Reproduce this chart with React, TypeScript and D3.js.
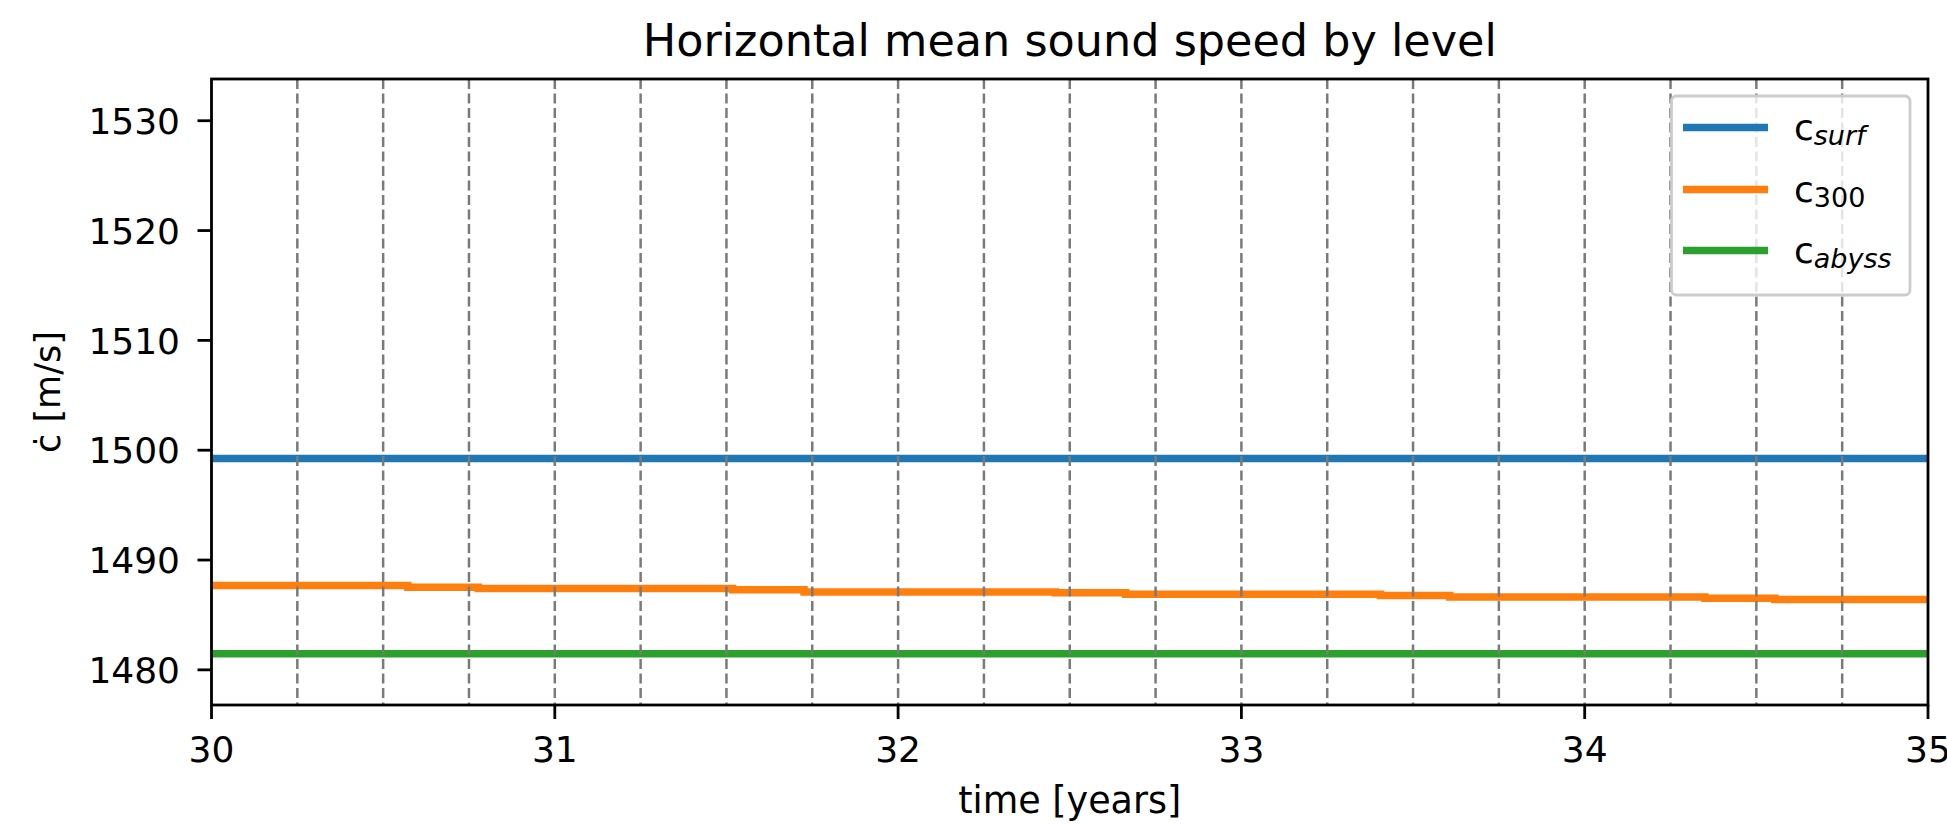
import React from "react";
import * as d3 from "d3";

// Sound speed series (m/s) against model time (years)
const surfTime = [30, 35];
const surfSpeed = [1499.25, 1499.25];

const c300Time = [30, 30.572, 30.777, 31.518, 31.726, 32.458, 32.663, 33.405, 33.607, 34.35, 34.554, 35];
const c300Speed = [1487.67, 1487.53, 1487.4, 1487.29, 1487.1, 1487.02, 1486.88, 1486.76, 1486.64, 1486.53, 1486.41, 1486.41];

const abyssTime = [30, 35];
const abyssSpeed = [1481.46, 1481.46];

const xTicks = [30, 31, 32, 33, 34, 35];
const yTicks = [1480, 1490, 1500, 1510, 1520, 1530];

const seriesNames = [
  { base: "c", sub: "surf", italic: true },
  { base: "c", sub: "300", italic: false },
  { base: "c", sub: "abyss", italic: true },
];
const colors = ["#1f77b4", "#ff7f0e", "#2ca02c"];

const W = 1947;
const H = 824;
const margin = { left: 211.5, right: 1928, top: 79, bottom: 705 };
const FONT = "'DejaVu Sans', sans-serif";

export default function App() {
  const x = d3.scaleLinear().domain([30, 35]).range([margin.left, margin.right]);
  const y = d3.scaleLinear().domain([1476.8, 1533.8]).range([margin.bottom, margin.top]);

  const series = [
    { t: surfTime, v: surfSpeed },
    { t: c300Time, v: c300Speed },
    { t: abyssTime, v: abyssSpeed },
  ];

  const line = d3
    .line<[number, number]>()
    .x((d) => x(d[0]))
    .y((d) => y(d[1]))
    .curve(d3.curveStepAfter);

  // quarterly marker lines between the axis ends
  const quarters = d3.range(30.25, 34.9, 0.25);

  const legendLeft = 1671.5;
  const legendTop = 96;
  const legendRows = [127.5, 189.5, 250.5];

  return (
    <svg
      width={W}
      height={H}
      style={{ position: "absolute", left: 0, top: 0, background: "#fff" }}
      fontFamily={FONT}
    >
      <defs>
        <clipPath id="plot-clip">
          <rect x={margin.left} y={margin.top} width={margin.right - margin.left} height={margin.bottom - margin.top} />
        </clipPath>
      </defs>

      <text x={(margin.left + margin.right) / 2} y={56} fontSize={44.5} textAnchor="middle" fill="#000">
        Horizontal mean sound speed by level
      </text>

      <g clipPath="url(#plot-clip)">
        {series.map((s, i) => (
          <path
            key={i}
            d={line(s.t.map((t, j) => [t, s.v[j]] as [number, number])) || ""}
            fill="none"
            stroke={colors[i]}
            strokeWidth={7.5}
          />
        ))}
        {quarters.map((q) => (
          <line
            key={q}
            x1={x(q)}
            x2={x(q)}
            y1={margin.top}
            y2={margin.bottom}
            stroke="#7a7a7a"
            strokeWidth={2.5}
            strokeDasharray="10,4.5"
          />
        ))}
      </g>

      {/* axes frame */}
      <rect
        x={margin.left}
        y={margin.top}
        width={margin.right - margin.left}
        height={margin.bottom - margin.top}
        fill="none"
        stroke="#000"
        strokeWidth={2.8}
      />

      {yTicks.map((t) => (
        <g key={t}>
          <line x1={margin.left - 14} x2={margin.left} y1={y(t)} y2={y(t)} stroke="#000" strokeWidth={2.8} />
          <text x={180} y={y(t)} dy="0.365em" fontSize={36} textAnchor="end" fill="#000">
            {t}
          </text>
        </g>
      ))}

      {xTicks.map((t) => (
        <g key={t}>
          <line x1={x(t)} x2={x(t)} y1={margin.bottom} y2={margin.bottom + 14} stroke="#000" strokeWidth={2.8} />
          <text x={x(t)} y={762} fontSize={36} textAnchor="middle" fill="#000">
            {t}
          </text>
        </g>
      ))}

      <text x={(margin.left + margin.right) / 2} y={813} fontSize={36.5} textAnchor="middle" fill="#000">
        time [years]
      </text>

      <text
        transform={`translate(60, ${(margin.top + margin.bottom) / 2}) rotate(-90)`}
        fontSize={35}
        textAnchor="middle"
        fill="#000"
      >
        ċ [m/s]
      </text>

      {/* legend */}
      <rect
        x={legendLeft}
        y={legendTop}
        width={1910 - legendLeft}
        height={295 - legendTop}
        rx={5}
        fill="#fff"
        fillOpacity={0.8}
        stroke="#cccccc"
        strokeWidth={2.8}
      />
      {seriesNames.map((s, i) => (
        <g key={s.sub}>
          <line x1={1683} x2={1768} y1={legendRows[i]} y2={legendRows[i]} stroke={colors[i]} strokeWidth={7.5} />
          <text x={1794} y={legendRows[i] + 12} fontSize={36} fill="#000">
            {s.base}
            <tspan dy={5} fontSize={27} fontStyle={s.italic ? "italic" : "normal"}>
              {s.sub}
            </tspan>
          </text>
        </g>
      ))}
    </svg>
  );
}
